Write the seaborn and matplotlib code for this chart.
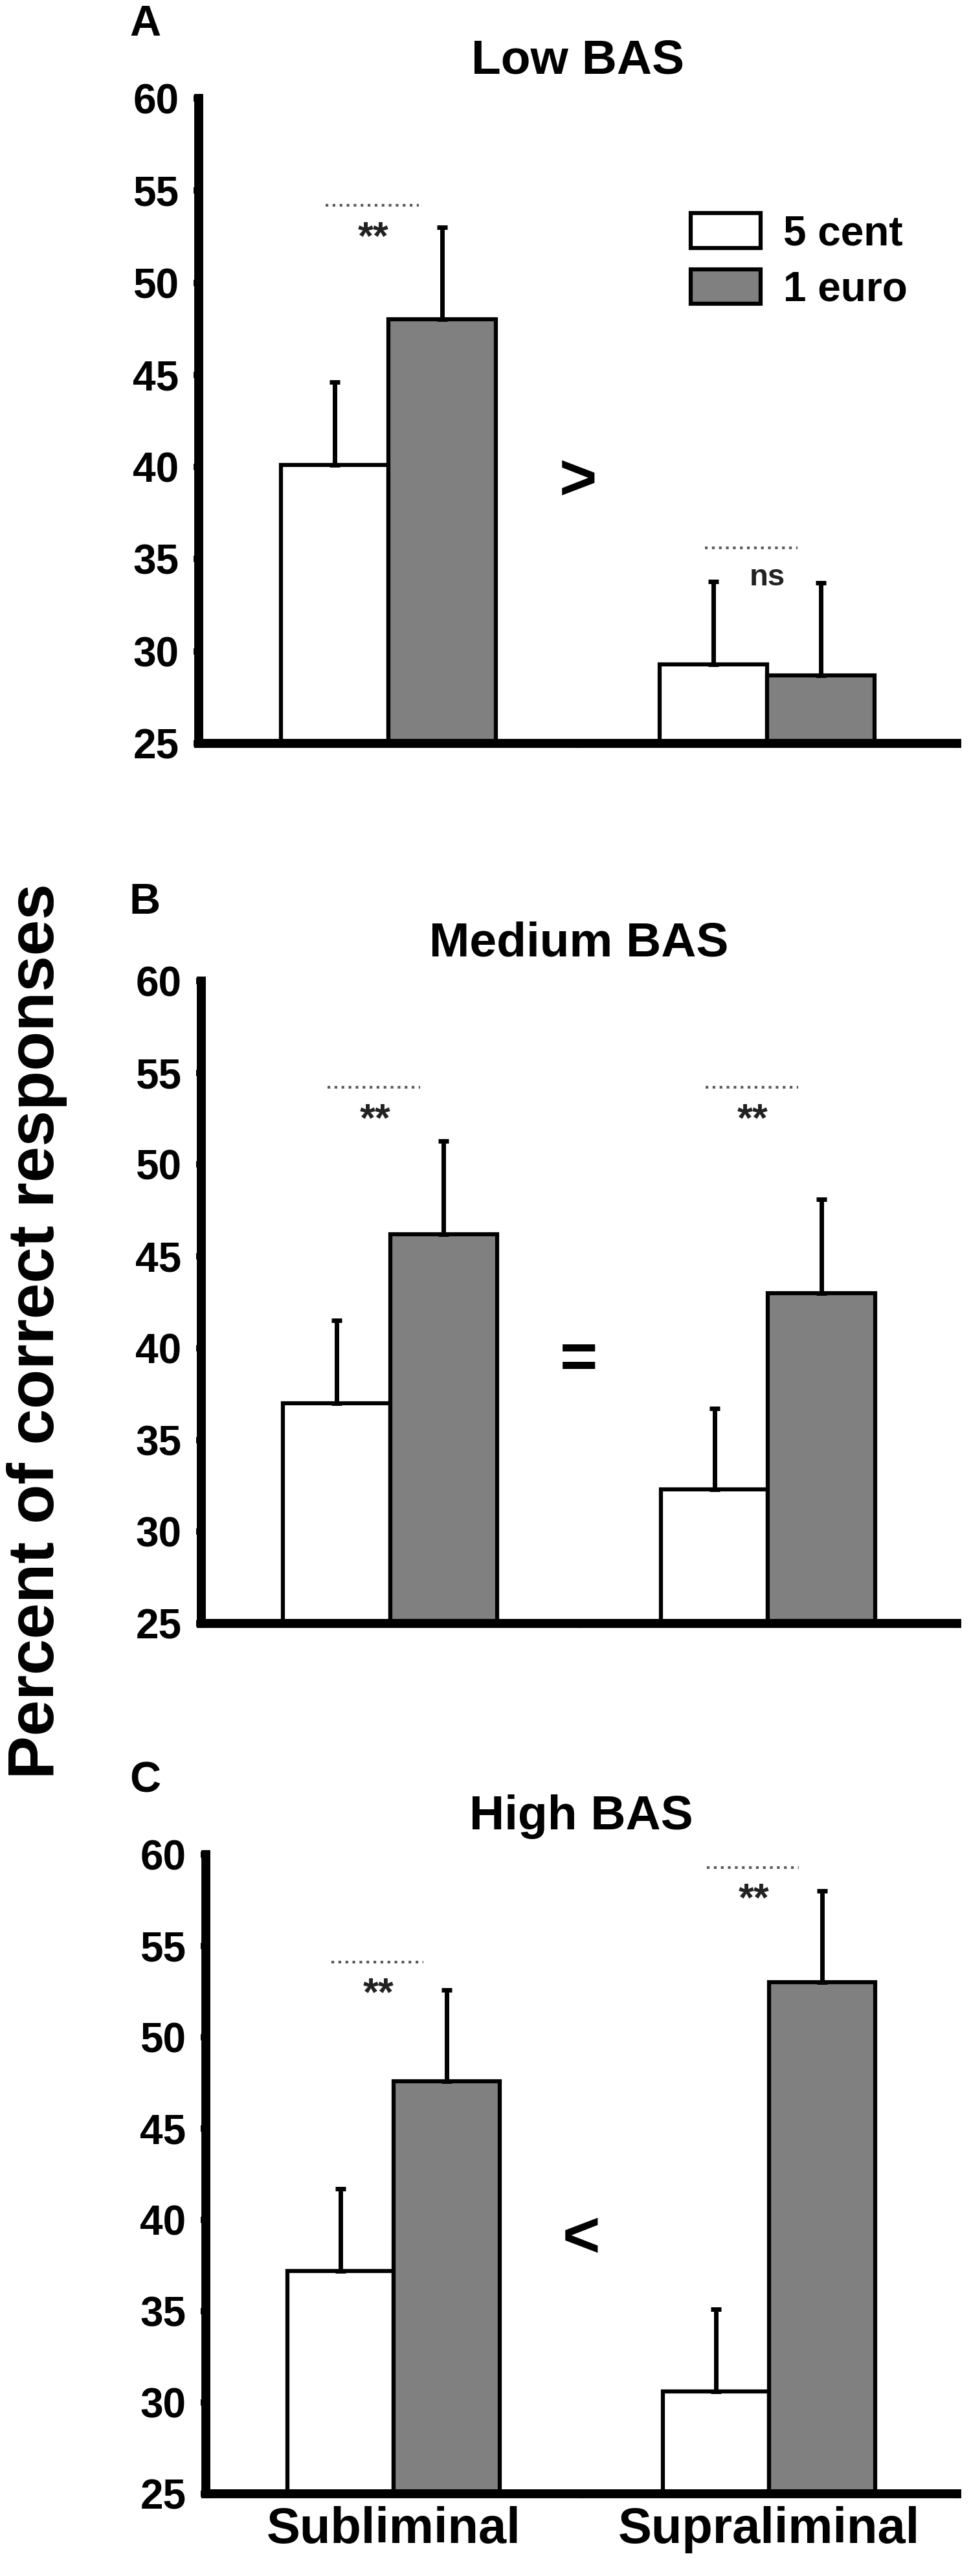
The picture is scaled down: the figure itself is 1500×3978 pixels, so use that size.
import numpy as np
import pandas as pd
import matplotlib
matplotlib.use("Agg")
import matplotlib.pyplot as plt
from matplotlib.patches import Patch
import seaborn as sns

# --- data ---
conditions = ["Subliminal", "Supraliminal"]
rewards = ["5 cent", "1 euro"]
panel_letters = ["A", "B", "C"]
panel_titles = ["Low BAS", "Medium BAS", "High BAS"]

# mean % correct, [Subliminal, Supraliminal]
low_5cent = [40.1, 29.3]
low_1euro = [48.0, 28.7]
med_5cent = [37.0, 32.3]
med_1euro = [46.2, 43.0]
high_5cent = [37.2, 30.6]
high_1euro = [47.6, 53.0]

# upper error bars (SE), [Subliminal, Supraliminal]
low_err_5cent = [4.5, 4.5]
low_err_1euro = [5.0, 5.0]
med_err_5cent = [4.5, 4.4]
med_err_1euro = [5.1, 5.1]
high_err_5cent = [4.5, 4.5]
high_err_1euro = [5.0, 5.0]

# significance marks per group: (text, line level, text level)
low_sig = [("**", 54.2, 52.4), ("ns", 35.6, 34.0)]
med_sig = [("**", 54.2, 52.4), ("**", 54.2, 52.4)]
high_sig = [("**", 54.1, 52.3), ("**", 59.3, 57.5)]

# comparison between the two groups
comparisons = [(">", 39.15), ("=", 39.3), ("<", 38.9)]

yticks = [25, 30, 35, 40, 45, 50, 55, 60]

means = [(low_5cent, low_1euro), (med_5cent, med_1euro), (high_5cent, high_1euro)]
errors = [(low_err_5cent, low_err_1euro), (med_err_5cent, med_err_1euro),
          (high_err_5cent, high_err_1euro)]
sigs = [low_sig, med_sig, high_sig]

colors = {"5 cent": "white", "1 euro": "#808080"}

sns.set_style("ticks")
plt.rcParams["font.family"] = ["Liberation Sans", "DejaVu Sans"]
plt.rcParams["font.weight"] = "bold"
for key in ["text.color", "axes.labelcolor", "xtick.color", "ytick.color",
            "axes.edgecolor"]:
    plt.rcParams[key] = "black"

W, H = 1500, 3978
fig = plt.figure(figsize=(15, 39.78), dpi=100)

# axes boxes in pixels: left, top (60), right, bottom (25)
boxes = [(307, 152, 1478, 1148), (311, 1515, 1478, 2507), (318, 2864, 1478, 3851)]
letter_tops = [7, 1363, 2719]

for i in range(3):
    l, t, r, b = boxes[i]
    ax = fig.add_axes([l / W, 1 - b / H, (r - l) / W, (b - t) / H])

    df = pd.DataFrame({
        "condition": conditions * 2,
        "reward": [rewards[0]] * 2 + [rewards[1]] * 2,
        "value": list(means[i][0]) + list(means[i][1]),
    })
    sns.barplot(data=df, x="condition", y="value", hue="reward",
                order=conditions, hue_order=rewards, palette=colors,
                saturation=1, edgecolor="black", linewidth=4.5, width=0.567,
                errorbar=None, legend=False, ax=ax, zorder=2)

    # one-sided error bars on top of every bar
    for cont, err in zip(ax.containers, errors[i]):
        xs = [p.get_x() + p.get_width() / 2 for p in cont.patches]
        ys = [p.get_height() for p in cont.patches]
        ax.errorbar(xs, ys, yerr=[np.zeros(len(err)), err], fmt="none",
                    ecolor="black", elinewidth=5, capsize=6, capthick=5,
                    zorder=3)

    # significance lines and stars
    for g, (txt, yl, yt) in enumerate(sigs[i]):
        cx = g - 0.04
        ax.plot([cx - 0.125, cx + 0.12], [yl, yl], color="#5a5a5a", lw=3,
                linestyle=(0, (1.0, 1.6)), zorder=4)
        fs = 34 if txt == "ns" else 44
        ax.text(cx + (0.04 if txt == "ns" else 0), yt, txt, ha="center",
                va="center", fontsize=fs, fontweight="bold", color="#222222")

    sym, ysym = comparisons[i]
    ax.text(0.5, ysym, sym, ha="center", va="center", fontsize=72,
            fontweight="bold")

    ax.set_xlim(-0.5, 1.5)
    ax.set_ylim(25, 60)
    ax.set_yticks(yticks)
    ax.set_yticklabels([str(v) for v in yticks], fontsize=46,
                       fontweight="bold")
    ax.set_xlabel("")
    ax.set_ylabel("")
    ax.set_xticks([0, 1])
    if i == 2:
        ax.set_xticklabels(conditions, fontsize=56, fontweight="bold")
    else:
        ax.set_xticklabels(["", ""])
    ax.set_xticks([0.5, 1.5], minor=True)
    ax.tick_params(axis="x", which="major", length=0, pad=14)
    ax.tick_params(axis="x", which="minor", length=5, width=6,
                   direction="out")
    ax.tick_params(axis="y", length=6, width=7, direction="out", pad=16)

    for s in ["top", "right"]:
        ax.spines[s].set_visible(False)
    for s in ["left", "bottom"]:
        ax.spines[s].set_linewidth(10)
        ax.spines[s].set_zorder(5)

    ax.set_title(panel_titles[i], fontsize=54, fontweight="bold", pad=28)
    fig.text(200 / W, 1 - letter_tops[i] / H, panel_letters[i],
             fontsize=48, fontweight="bold", ha="left", va="top")

    if i == 0:
        handles = [Patch(facecolor=colors[k], edgecolor="black", linewidth=4.5,
                         label=k) for k in rewards]
        ax.legend(handles=handles, loc="upper left",
                  bbox_to_anchor=(0.649, 0.822), frameon=False,
                  fontsize=46, handlelength=1.69, handleheight=0.92,
                  handletextpad=0.55, labelspacing=0.38, borderpad=0,
                  borderaxespad=0)

fig.text(57 / W, 1 - 2056 / H, "Percent of correct responses", rotation=90,
         ha="center", va="center", fontsize=72, fontweight="bold")

fig.savefig("out.png", dpi=100, facecolor="white")
